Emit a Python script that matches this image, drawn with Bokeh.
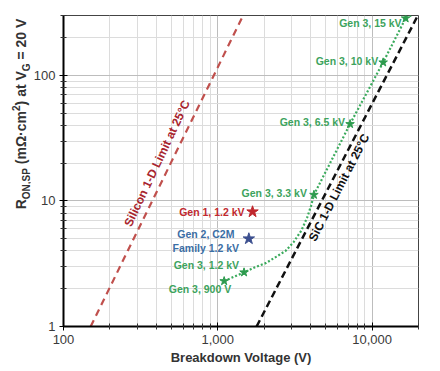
from bokeh.plotting import figure
from bokeh.models import FixedTicker, NumeralTickFormatter, Div
from bokeh.layouts import row
from bokeh.core.properties import value
from bokeh.embed import file_html
from bokeh.resources import INLINE

# ---------------- data ----------------
x_major = [100, 1000, 10000]
y_major = [1, 10, 100]

gen3_v = [1100, 1480, 4200, 7200, 11800, 16500]
gen3_r = [2.3, 2.7, 11.2, 41, 127, 285]
gen3_labels = ["Gen 3, 900 V", "Gen 3, 1.2 kV", "Gen 3, 3.3 kV",
               "Gen 3, 6.5 kV", "Gen 3, 10 kV", "Gen 3, 15 kV"]

trend_v = [1100, 1480, 1730, 2050, 2400, 2750, 3100, 3480, 3800, 4030, 4200,
           7200, 11800, 16500, 17900]
trend_r = [2.3, 2.7, 2.95, 3.2, 3.6, 4.0, 4.7, 5.8, 7.4, 9.2, 11.2,
           41, 127, 285, 300]

gen1_v = [1680]
gen1_r = [8.2]
gen1_label = ["Gen 1, 1.2 kV"]

gen2_v = [1590]
gen2_r = [5.0]
gen2_label = ["Gen 2, C2M\nFamily 1.2 kV"]

si_v = [150, 1460]
si_r = [1, 300]
sic_v = [1785, 19800]
sic_r = [1, 300]

si_text = ["Silicon 1-D Limit at 25°C"]
si_text_v = [404]
si_text_r = [19.9]
sic_text = ["SiC 1-D Limit at 25°C"]
sic_text_v = [6110]
sic_text_r = [12.8]

FONT = "Liberation Sans"

x_minor = [k * 10 ** d for d in range(2, 5) for k in range(2, 10) if k * 10 ** d <= 20000]
y_minor = [k * 10 ** d for d in range(0, 3) for k in range(2, 10) if k * 10 ** d <= 300]

p = figure(width=410, height=371, x_axis_type="log", y_axis_type="log",
           x_range=(100, 20000), y_range=(1, 300),
           output_backend="svg", toolbar_location=None,
           min_border_left=31, min_border_right=22, min_border_top=15,
           min_border_bottom=45)

p.xaxis.ticker = FixedTicker(ticks=x_major, minor_ticks=x_minor)
p.yaxis.ticker = FixedTicker(ticks=y_major, minor_ticks=y_minor)
p.xaxis.formatter = NumeralTickFormatter(format="0,0")
p.yaxis.formatter = NumeralTickFormatter(format="0,0")

for ax in (p.xaxis, p.yaxis):
    ax.axis_line_color = "black"
    ax.axis_line_width = 2
    ax.major_tick_line_color = "black"
    ax.minor_tick_line_color = "#333333"
    ax.major_tick_in = 4
    ax.major_tick_out = 4
    ax.minor_tick_in = 3
    ax.minor_tick_out = 3
    ax.major_label_text_font = FONT
    ax.major_label_text_font_size = "13px"
    ax.major_label_text_color = "#3a3a3a"
    ax.major_label_standoff = 4

p.xaxis.axis_label = "Breakdown Voltage (V)"
p.xaxis.axis_label_text_font = FONT
p.xaxis.axis_label_text_font_size = "13px"
p.xaxis.axis_label_text_font_style = "bold"
p.xaxis.axis_label_text_color = "#333333"
p.xaxis.axis_label_standoff = 3

for g in (p.xgrid, p.ygrid):
    g.grid_line_color = "#bdbdbd"
    g.grid_line_width = 1
    g.minor_grid_line_color = "#dcdcdc"
    g.minor_grid_line_width = 1

p.outline_line_color = "#444444"
p.outline_line_width = 1

# limit lines
p.line(si_v, si_r, line_color="#c0504d", line_width=2.2, line_dash="7 5")
p.line(sic_v, sic_r, line_color="#111111", line_width=2.5, line_dash="7 4")

# Gen 3 trend (dotted)
p.line(trend_v, trend_r, line_color="#3aaa5c", line_width=2.2, line_dash="2 2")

# markers
p.scatter(gen3_v, gen3_r, marker="star", size=9, color="#2d9b4e")
p.scatter(gen1_v, gen1_r, marker="star", size=12, color="#c0272d")
p.scatter(gen2_v, gen2_r, marker="star", size=12, color="#3c4f8f")

# labels
p.text(x=gen3_v, y=gen3_r, text=gen3_labels,
       x_offset=[7, -5, -7, -5, -5, -4], y_offset=[8, -7, -2, -2, -1, 5],
       text_align="right", text_baseline="middle",
       text_font=value(FONT), text_font_style="bold", text_font_size="10.5px",
       text_color="#3da35d")
p.text(x=gen1_v, y=gen1_r, text=gen1_label, x_offset=-8, y_offset=0,
       text_align="right", text_baseline="middle",
       text_font=value(FONT), text_font_style="bold", text_font_size="10.5px",
       text_color="#c0272d")
p.text(x=gen2_v, y=gen2_r, text=gen2_label, x_offset=-43, y_offset=2,
       text_align="center", text_baseline="middle", text_line_height=1.15,
       text_font=value(FONT), text_font_style="bold", text_font_size="10.5px",
       text_color="#3b6ea5")

p.text(x=si_text_v, y=si_text_r, text=si_text, angle=1.129,
       text_align="center", text_baseline="middle",
       text_font=value(FONT), text_font_style="bold", text_font_size="12px",
       text_color="#a8252e")
p.text(x=sic_text_v, y=sic_text_r, text=sic_text, angle=1.096,
       text_align="center", text_baseline="middle",
       text_font=value(FONT), text_font_style="bold", text_font_size="12px",
       text_color="#111111")

# y-axis label with sub/superscripts, rotated, in a narrow Div left of the plot
ylabel_html = (
    '<div style="position:relative;width:30px;height:371px;">'
    '<div style="position:absolute;left:22px;top:114px;'
    'transform:translate(-50%,-50%) rotate(-90deg);white-space:nowrap;'
    "font-family:'Liberation Sans',Arial,sans-serif;font-weight:bold;"
    'font-size:14px;color:#333333;line-height:16px;">'
    'R<sub style="font-size:10px;">ON,SP</sub> (mΩ·cm<sup style="font-size:10px;">2</sup>)'
    ' at V<sub style="font-size:10px;">G</sub> = 20 V'
    '</div></div>'
)
ylabel = Div(text=ylabel_html, width=30, height=371, margin=0)

layout = row(ylabel, p, spacing=0)

open("out.html", "w").write(file_html(layout, INLINE))
